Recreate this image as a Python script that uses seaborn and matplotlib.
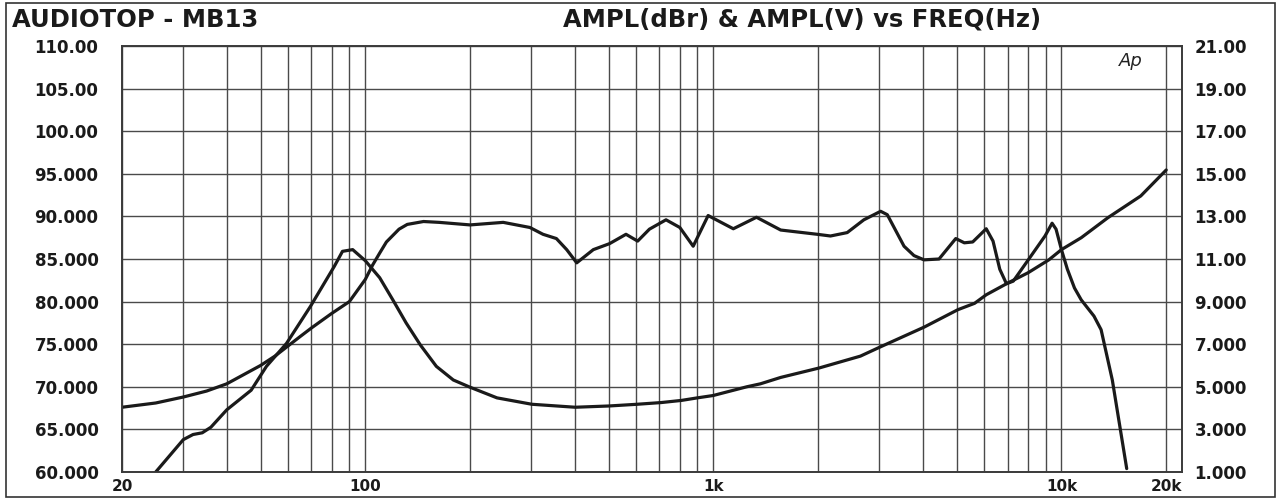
import numpy as np
import pandas as pd
import matplotlib
matplotlib.use('Agg')
import matplotlib.pyplot as plt
import matplotlib.ticker as mticker
from matplotlib.patches import Rectangle
import seaborn as sns

# frequency response (left axis, dBr)
resp_freq = [20, 25, 30, 35, 40, 50, 55, 60, 65, 70, 80, 90, 100, 105, 110, 115, 125,
             132, 147, 163, 200, 249, 297, 324, 354, 379, 405, 452, 503, 561, 606,
             655, 731, 801, 875, 966, 1141, 1330, 1561, 1988, 2170, 2424, 2706, 3024,
             3160, 3530, 3770, 4030, 4450, 4970, 5260, 5560, 6080, 6360, 6650, 6950,
             7270, 8030, 8970, 9400, 9650, 10000, 10400, 10900, 11400, 12400, 13000,
             14000, 15400]
resp_db = [67.6, 68.1, 68.8, 69.5, 70.35, 72.5, 73.6, 74.8, 75.9, 76.9, 78.6, 80.0,
           82.6, 84.3, 85.7, 87.0, 88.5, 89.06, 89.4, 89.3, 89.0, 89.3, 88.7, 87.9,
           87.4, 86.1, 84.55, 86.1, 86.8, 87.9, 87.1, 88.5, 89.6, 88.7, 86.5, 90.1,
           88.55, 89.9, 88.4, 87.9, 87.7, 88.1, 89.6, 90.6, 90.2, 86.5, 85.4, 84.9,
           85.0, 87.4, 86.9, 87.0, 88.55, 87.1, 83.8, 82.1, 82.4, 84.9, 87.7, 89.2,
           88.5, 86.1, 83.8, 81.6, 80.2, 78.3, 76.7, 70.8, 60.4]

# impedance-like curve (right axis, V)
imp_freq = [25, 30, 32, 34, 36, 40, 47, 52, 59.4, 69.6, 81.5, 86, 92, 100, 110, 120,
            131, 144, 160, 179, 200, 239, 301, 401, 502, 604, 708, 809, 899, 998,
            1247, 1365, 1561, 2010, 2645, 3024, 4030, 5040, 5630, 6080, 7030, 8030,
            9200, 10000, 11400, 13600, 16900, 20000]
imp_v = [1.0, 2.52, 2.76, 2.84, 3.1, 3.92, 4.84, 5.96, 7.04, 8.78, 10.66, 11.36,
         11.44, 10.92, 10.12, 9.08, 8.0, 6.96, 5.96, 5.32, 4.98, 4.48, 4.18, 4.04,
         4.10, 4.18, 4.26, 4.36, 4.48, 4.59, 5.0, 5.14, 5.44, 5.88, 6.44, 6.88, 7.8,
         8.62, 8.92, 9.32, 9.88, 10.36, 10.96, 11.44, 12.0, 12.94, 13.96, 15.18]

left_ticks = [60, 65, 70, 75, 80, 85, 90, 95, 100, 105, 110]
left_labels = ['60.000', '65.000', '70.000', '75.000', '80.000', '85.000',
               '90.000', '95.000', '100.00', '105.00', '110.00']
right_ticks = [1, 3, 5, 7, 9, 11, 13, 15, 17, 19, 21]
right_labels = ['1.000', '3.000', '5.000', '7.000', '9.000', '11.00', '13.00',
                '15.00', '17.00', '19.00', '21.00']
x_major = [20, 100, 1000, 10000, 20000]
x_labels = ['20', '100', '1k', '10k', '20k']

sns.set_theme(style='white')
plt.rcParams['font.family'] = ['DejaVu Sans']

df_resp = pd.DataFrame({'freq': resp_freq, 'val': resp_db})
df_imp = pd.DataFrame({'freq': imp_freq, 'val': imp_v})

fig = plt.figure(figsize=(12.81, 4.99), dpi=100)
ax = fig.add_axes([122 / 1281, 27 / 499, 1060 / 1281, 426 / 499])
ax2 = ax.twinx()

line_kw = dict(color='#1a1a1a', linewidth=2.3)
sns.lineplot(data=df_resp, x='freq', y='val', ax=ax, **line_kw)
sns.lineplot(data=df_imp, x='freq', y='val', ax=ax2, **line_kw)

ax.set_xscale('log')
ax.set_xlim(20, 22200)
ax.set_ylim(60, 110)
ax2.set_ylim(1, 21)

minor = [m * 10 ** e for e in range(1, 5) for m in range(2, 10)]
minor = [v for v in minor if 20 <= v <= 20000 and v not in x_major]
ax.xaxis.set_major_locator(mticker.FixedLocator(x_major))
ax.xaxis.set_major_formatter(mticker.FixedFormatter(x_labels))
ax.xaxis.set_minor_locator(mticker.FixedLocator(minor))
ax.xaxis.set_minor_formatter(mticker.NullFormatter())

ax.set_yticks(left_ticks)
ax.set_yticklabels(left_labels)
ax2.set_yticks(right_ticks)
ax2.set_yticklabels(right_labels)

grid_kw = dict(color='#4a4a4a', linewidth=1.0)
ax.grid(True, which='both', axis='x', **grid_kw)
ax.grid(True, which='major', axis='y', **grid_kw)
ax2.grid(False)

ax.tick_params(axis='both', which='both', length=0)
ax.tick_params(axis='y', pad=17)
ax.tick_params(axis='x', pad=5)
ax2.tick_params(axis='y', length=0, pad=9)
for t in ax.get_yticklabels() + ax2.get_yticklabels():
    t.set_fontsize(12)
    t.set_fontweight('bold')
    t.set_color('#1a1a1a')
for t in ax.get_xticklabels():
    t.set_fontsize(11)
    t.set_fontweight('bold')
    t.set_color('#1a1a1a')

ax.set_xlabel('')
ax.set_ylabel('')
ax2.set_ylabel('')
for a in (ax, ax2):
    for s in a.spines.values():
        s.set_color('#3a3a3a')
        s.set_linewidth(1.2)

ax.text(0.952, 0.965, 'Ap', transform=ax.transAxes, ha='center', va='center',
        fontsize=13, fontstyle='italic', fontweight='light', color='#222222')

fig.text(12 / 1281, 1 - 20 / 499, 'AUDIOTOP - MB13', ha='left', va='center',
         fontsize=17.5, fontweight='bold', color='#1a1a1a')
fig.text(802 / 1281, 1 - 20 / 499, 'AMPL(dBr) & AMPL(V) vs FREQ(Hz)', ha='center',
         va='center', fontsize=17.5, fontweight='bold', color='#1a1a1a')

fig.patches.append(Rectangle((6 / 1281, 2 / 499), 1269 / 1281, 494 / 499,
                             transform=fig.transFigure, fill=False,
                             edgecolor='#333333', linewidth=1.2))

fig.savefig('out.png', dpi=100)
